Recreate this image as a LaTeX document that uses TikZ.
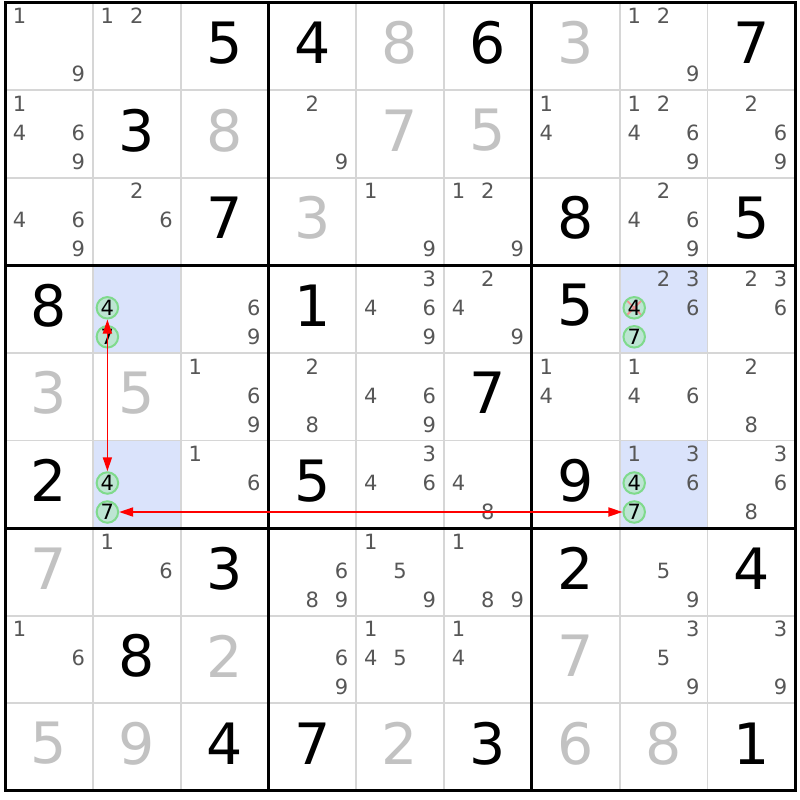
\documentclass[tikz,border=0pt]{standalone}
\usepackage{fontspec}
\setmainfont{DejaVu Sans}
\usetikzlibrary{arrows.meta}

\definecolor{candgrey}{HTML}{575757}
\definecolor{solvedgrey}{HTML}{C2C2C2}
\definecolor{thingrey}{HTML}{D6D6D6}
\definecolor{pickblue}{HTML}{DAE3FB}
\definecolor{ringgreen}{HTML}{7FDA8C}
\definecolor{ringfill}{HTML}{BDE5D3}
\definecolor{crossred}{HTML}{F29393}

% big digit in the middle of cell (row,col)
\newcommand{\clue}[4][given]{\node[#1] (r#2c#3) at ({5+87.8*(#3-0.5)},{2.5+87.6*(#2-0.5)-3.5}) {#4};}
% one pencil mark, placed by its value
\newcommand{\cand}[4][cand]{%
  \pgfmathsetmacro\candx{5+87.8*(#3-1)+14.6+29.3*mod(#4-1,3)}%
  \pgfmathsetmacro\candy{2.5+87.6*(#2-1)+13.5+29*floor((#4-1)/3)}%
  \node[#1] (r#2c#3n#4) at (\candx,\candy) {#4};}
\newcommand{\cands}[3]{\foreach \dg in {#3}{\cand{#1}{#2}{\dg}}}

\begin{document}
\begin{tikzpicture}[x=1pt, y=-1pt,
  given/.style={font=\fontsize{57}{57}\selectfont, inner sep=0pt},
  solved/.style={given, text=solvedgrey},
  cand/.style={font=\fontsize{21}{21}\selectfont, text=candgrey, inner sep=0pt},
  pick/.style={cand, text=black, circle, draw=ringgreen, fill=ringfill, line width=2pt, minimum size=21.5pt},
  struck/.style={pick, path picture={\draw[crossred, line width=1.8pt]
      (path picture bounding box.south west) -- (path picture bounding box.north east)
      (path picture bounding box.north west) -- (path picture bounding box.south east);}},
  link/.style={red, line width=1.8pt, {Triangle[length=14pt,width=9pt]}-{Triangle[length=14pt,width=9pt]}}]

\fill[white] (0,0) rectangle (800,800);
\useasboundingbox (0,0) rectangle (800,800);

\foreach \r/\c in {4/2,6/2,4/8,6/8}
  \fill[pickblue] ({5+87.8*(\c-1)},{2.5+87.6*(\r-1)}) rectangle +(87.8,87.6);

\foreach \i in {1,2,4,5,7,8} {
  \draw[thingrey, line width=1.8pt] ({5+87.8*\i},2.5) -- ({5+87.8*\i},790.9);
  \draw[thingrey, line width=1.8pt] (5,{2.5+87.6*\i}) -- (795.2,{2.5+87.6*\i});
}
\foreach \i in {3,6} {
  \draw[black, line width=3pt] ({5+87.8*\i},2.5) -- ({5+87.8*\i},790.9);
  \draw[black, line width=3pt] (5,{2.5+87.6*\i}) -- (795.2,{2.5+87.6*\i});
}
\draw[black, line width=3pt] (5,2.5) rectangle (795.2,790.9);

\cands{1}{1}{1,9} \cands{1}{2}{1,2} \clue{1}{3}{5} \clue{1}{4}{4} \clue[solved]{1}{5}{8}
\clue{1}{6}{6} \clue[solved]{1}{7}{3} \cands{1}{8}{1,2,9} \clue{1}{9}{7}

\cands{2}{1}{1,4,6,9} \clue{2}{2}{3} \clue[solved]{2}{3}{8} \cands{2}{4}{2,9} \clue[solved]{2}{5}{7}
\clue[solved]{2}{6}{5} \cands{2}{7}{1,4} \cands{2}{8}{1,2,4,6,9} \cands{2}{9}{2,6,9}

\cands{3}{1}{4,6,9} \cands{3}{2}{2,6} \clue{3}{3}{7} \clue[solved]{3}{4}{3} \cands{3}{5}{1,9}
\cands{3}{6}{1,2,9} \clue{3}{7}{8} \cands{3}{8}{2,4,6,9} \clue{3}{9}{5}

\clue{4}{1}{8} \cand[pick]{4}{2}{4} \cand[pick]{4}{2}{7} \cands{4}{3}{6,9} \clue{4}{4}{1}
\cands{4}{5}{3,4,6,9} \cands{4}{6}{2,4,9} \clue{4}{7}{5}
\cands{4}{8}{2,3,6} \cand[struck]{4}{8}{4} \cand[pick]{4}{8}{7} \cands{4}{9}{2,3,6}

\clue[solved]{5}{1}{3} \clue[solved]{5}{2}{5} \cands{5}{3}{1,6,9} \cands{5}{4}{2,8} \cands{5}{5}{4,6,9}
\clue{5}{6}{7} \cands{5}{7}{1,4} \cands{5}{8}{1,4,6} \cands{5}{9}{2,8}

\clue{6}{1}{2} \cand[pick]{6}{2}{4} \cand[pick]{6}{2}{7} \cands{6}{3}{1,6} \clue{6}{4}{5}
\cands{6}{5}{3,4,6} \cands{6}{6}{4,8} \clue{6}{7}{9}
\cands{6}{8}{1,3,6} \cand[pick]{6}{8}{4} \cand[pick]{6}{8}{7} \cands{6}{9}{3,6,8}

\clue[solved]{7}{1}{7} \cands{7}{2}{1,6} \clue{7}{3}{3} \cands{7}{4}{6,8,9} \cands{7}{5}{1,5,9}
\cands{7}{6}{1,8,9} \clue{7}{7}{2} \cands{7}{8}{5,9} \clue{7}{9}{4}

\cands{8}{1}{1,6} \clue{8}{2}{8} \clue[solved]{8}{3}{2} \cands{8}{4}{6,9} \cands{8}{5}{1,4,5}
\cands{8}{6}{1,4} \clue[solved]{8}{7}{7} \cands{8}{8}{3,5,9} \cands{8}{9}{3,9}

\clue[solved]{9}{1}{5} \clue[solved]{9}{2}{9} \clue{9}{3}{4} \clue{9}{4}{7} \clue[solved]{9}{5}{2}
\clue{9}{6}{3} \clue[solved]{9}{7}{6} \clue[solved]{9}{8}{8} \clue{9}{9}{1}

\draw[link] (r4c2n4) -- (r6c2n4);
\draw[link] (r6c2n7) -- (r6c8n7);
\end{tikzpicture}
\end{document}
